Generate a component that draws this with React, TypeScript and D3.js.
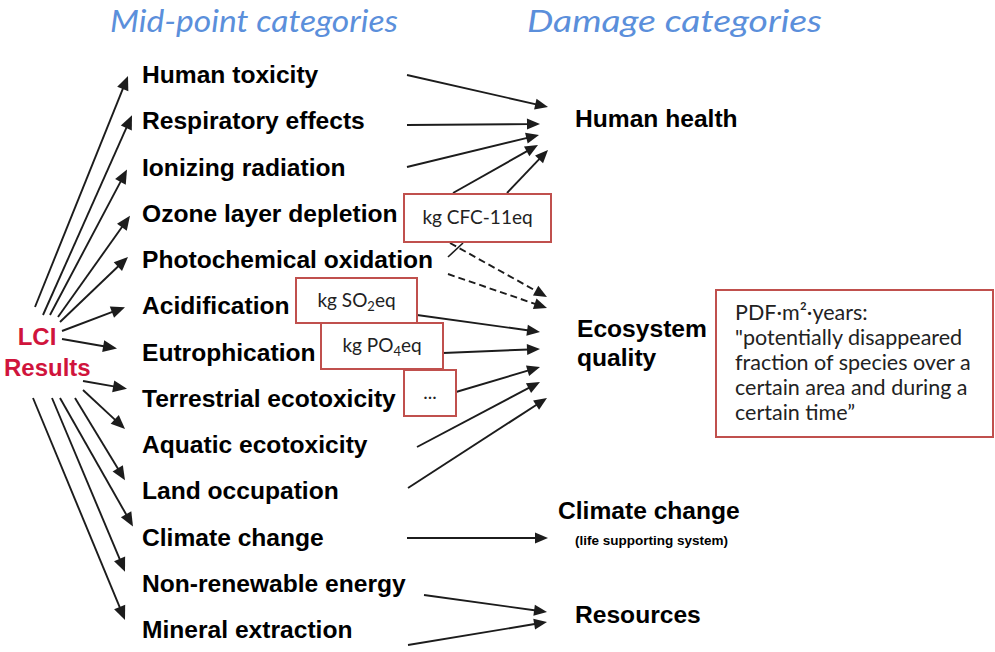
import React from "react";
import * as d3 from "d3";

// ---------- data ----------
const midpointCategories = [
  "Human toxicity",
  "Respiratory effects",
  "Ionizing radiation",
  "Ozone layer depletion",
  "Photochemical oxidation",
  "Acidification",
  "Eutrophication",
  "Terrestrial ecotoxicity",
  "Aquatic ecotoxicity",
  "Land occupation",
  "Climate change",
  "Non-renewable energy",
  "Mineral extraction",
];
const damageCategories = ["Human health", "Ecosystem quality", "Climate change", "Resources"];
const damageSubtitles = ["", "", "(life supporting system)", ""];
const titles = ["Mid-point categories", "Damage categories"];
const sourceLabel = ["LCI", "Results"];
// link: [midpoint, damage, style, via unit box]
const links: [string, string, string, string][] = [
  ["Human toxicity", "Human health", "solid", ""],
  ["Respiratory effects", "Human health", "solid", ""],
  ["Ionizing radiation", "Human health", "solid", ""],
  ["Ozone layer depletion", "Human health", "solid", "cfc"],
  ["Ozone layer depletion", "Human health", "solid", "cfc"],
  ["Ozone layer depletion", "Ecosystem quality", "dashed", "cfc"],
  ["Photochemical oxidation", "Ecosystem quality", "dashed", ""],
  ["Acidification", "Ecosystem quality", "solid", "so2"],
  ["Eutrophication", "Ecosystem quality", "solid", "po4"],
  ["Terrestrial ecotoxicity", "Ecosystem quality", "solid", "dots"],
  ["Aquatic ecotoxicity", "Ecosystem quality", "solid", ""],
  ["Land occupation", "Ecosystem quality", "solid", ""],
  ["Climate change", "Climate change", "solid", ""],
  ["Non-renewable energy", "Resources", "solid", ""],
  ["Mineral extraction", "Resources", "solid", ""],
];
const unitBoxes = [
  { id: "cfc", parts: ["kg CFC-11eq"] },
  { id: "so2", parts: ["kg SO", "2", "eq"] },
  { id: "po4", parts: ["kg PO", "4", "eq"] },
  { id: "dots", parts: ["..."] },
];
const pdfNote = [
  "PDF·m²·years:",
  "\"potentially disappeared",
  "fraction of species over a",
  "certain area and during a",
  "certain time”",
];

// ---------- layout ----------
const W = 995;
const H = 652;
const rowY = d3.scalePoint<string>().domain(midpointCategories).range([74, 629]);

// fan of LCI arrows: [startX, startY, tipX, tipDy]
const fan: [number, number, number, number][] = [
  [35, 307, 128, 2],
  [43, 315, 132, -5],
  [50, 315, 127, 3],
  [58, 317, 130, 3],
  [60, 322, 128, -2],
  [62, 331, 125, 2],
  [62, 339, 117, -3],
  [83, 381, 127, -9],
  [83, 390, 125, -15],
  [75, 398, 125, -10],
  [60, 398, 133, -10],
  [52, 398, 125, -11],
  [33, 398, 125, -9],
];
// right-hand links geometry, same order as links: [x1,y1,x2,y2]
const linkGeom: [number, number, number, number][] = [
  [407, 75, 548, 107],
  [407, 125, 540, 124],
  [407, 167, 539, 135],
  [453, 193, 538, 145],
  [507, 193, 548, 150],
  [450, 243, 547, 297],
  [448, 274, 547, 308],
  [417, 315, 540, 332],
  [443, 353, 540, 349],
  [456, 392, 540, 367],
  [417, 447, 540, 382],
  [408, 488, 547, 398],
  [407, 538, 548, 538],
  [424, 595, 547, 612],
  [408, 645, 547, 622],
];
const boxGeom: Record<string, [number, number, number, number]> = {
  cfc: [404, 194, 147, 48],
  so2: [296, 278, 121, 45],
  po4: [321, 323, 122, 46],
  dots: [404, 370, 52, 46],
};
const damagePos: [number, number[]][] = [
  [575, [127]],
  [577, [337, 366]],
  [558, [519]],
  [575, [623]],
];

const BOLD = "'Liberation Sans', Arial, Helvetica, sans-serif";
const LIGHT = "Lato, 'Open Sans', sans-serif";
const INK = "#1c1c1c";
const RED = "#c0504d";

function Arrow({ x1, y1, x2, y2, dashed, len = 13, hw = 5.5 }: any) {
  const dx = x2 - x1;
  const dy = y2 - y1;
  const L = Math.hypot(dx, dy);
  const ux = dx / L;
  const uy = dy / L;
  const bx = x2 - ux * len;
  const by = y2 - uy * len;
  const nx = -uy;
  const ny = ux;
  const head = d3.path();
  head.moveTo(x2, y2);
  head.lineTo(bx + nx * hw, by + ny * hw);
  head.lineTo(bx - nx * hw, by - ny * hw);
  head.closePath();
  return (
    <g>
      <line
        x1={x1}
        y1={y1}
        x2={bx + ux * 2}
        y2={by + uy * 2}
        stroke={INK}
        strokeWidth={1.9}
        strokeDasharray={dashed ? "7 4" : undefined}
      />
      <path d={head.toString()} fill={INK} />
    </g>
  );
}

export default function App() {
  return (
    <svg width={W} height={H} style={{ position: "absolute", left: 0, top: 0, background: "#fff" }}>
      <rect width={W} height={H} fill="#fff" />
      {/* titles */}
      <text x={110} y={32} fontFamily={LIGHT} fontStyle="italic" fontSize={30} fill="#5b8fdb" textLength={288} lengthAdjust="spacingAndGlyphs">
        {titles[0]}
      </text>
      <text x={527} y={32} fontFamily={LIGHT} fontStyle="italic" fontSize={30} fill="#5b8fdb" textLength={295} lengthAdjust="spacingAndGlyphs">
        {titles[1]}
      </text>

      {/* LCI fan */}
      {midpointCategories.map((c, i) => (
        <Arrow key={c} x1={fan[i][0]} y1={fan[i][1]} x2={fan[i][2]} y2={(rowY(c) as number) + fan[i][3]} len={14} hw={6} />
      ))}
      <text x={37} y={345} textAnchor="middle" fontFamily={BOLD} fontWeight="bold" fontSize={24} fill="#d0143c">
        {sourceLabel[0]}
      </text>
      <text x={4} y={376} fontFamily={BOLD} fontWeight="bold" fontSize={24} fill="#d0143c">
        {sourceLabel[1]}
      </text>

      {/* midpoint labels */}
      {midpointCategories.map((c) => (
        <text key={c} x={142} y={(rowY(c) as number) + 9} fontFamily={BOLD} fontWeight="bold" fontSize={24.6} fill="#000">
          {c}
        </text>
      ))}

      {/* links */}
      {links.map((l, i) => (
        <Arrow
          key={i}
          x1={linkGeom[i][0]}
          y1={linkGeom[i][1]}
          x2={linkGeom[i][2]}
          y2={linkGeom[i][3]}
          dashed={l[2] === "dashed"}
          len={13}
          hw={5.5}
        />
      ))}
      <line x1={448} y1={257} x2={463} y2={243} stroke={INK} strokeWidth={1.6} />

      {/* unit boxes */}
      {unitBoxes.map((b) => {
        const [x, y, w, h] = boxGeom[b.id];
        return (
          <g key={b.id}>
            <rect x={x} y={y} width={w} height={h} fill="#fff" stroke={RED} strokeWidth={2} />
            <text x={x + w / 2} y={y + h / 2 + 6} textAnchor="middle" fontFamily={LIGHT} fontSize={19} fill="#222">
              {b.parts.length === 1 ? (
                b.parts[0]
              ) : (
                <>
                  {b.parts[0]}
                  <tspan fontSize={13} dy={4}>{b.parts[1]}</tspan>
                  <tspan dy={-4}>{b.parts[2]}</tspan>
                </>
              )}
            </text>
          </g>
        );
      })}

      {/* damage labels */}
      {damageCategories.map((d, i) => {
        const [x, ys] = damagePos[i];
        const lines = ys.length > 1 ? d.split(" ") : [d];
        return (
          <g key={d}>
            {lines.map((t, j) => (
              <text key={j} x={x} y={ys[j]} fontFamily={BOLD} fontWeight="bold" fontSize={24.6} fill="#000">
                {t}
              </text>
            ))}
            {damageSubtitles[i] && (
              <text x={x + 17} y={ys[0] + 26} fontFamily={BOLD} fontWeight="bold" fontSize={13.5} fill="#000">
                {damageSubtitles[i]}
              </text>
            )}
          </g>
        );
      })}

      {/* PDF note */}
      <rect x={716} y={290} width={277} height={147} fill="#fff" stroke={RED} strokeWidth={2} />
      {pdfNote.map((t, i) => (
        <text key={i} x={735} y={320 + i * 25} fontFamily={LIGHT} fontSize={21.5} fill="#222">
          {t}
        </text>
      ))}
    </svg>
  );
}
